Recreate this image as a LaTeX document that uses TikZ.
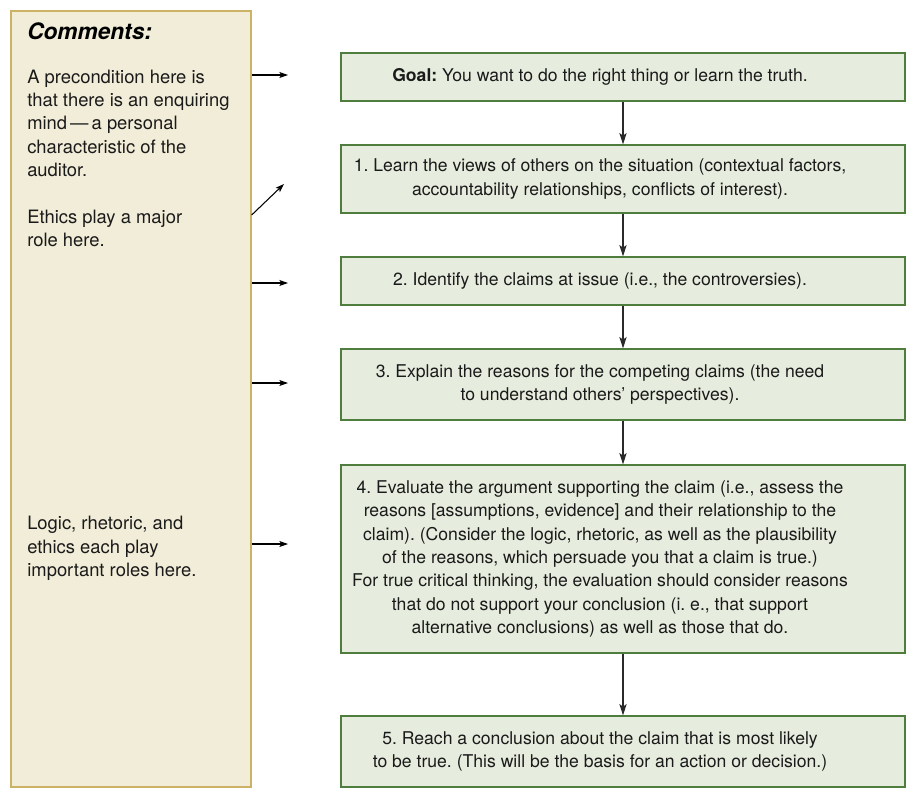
\documentclass[tikz,border=0pt]{standalone}
\usepackage{fontspec}
\setmainfont{TeX Gyre Heros}
\usetikzlibrary{arrows.meta}
\definecolor{creamfill}{HTML}{F2EDD8}
\definecolor{creamline}{HTML}{CCB264}
\definecolor{greenfill}{HTML}{E6EDDE}
\definecolor{greenline}{HTML}{4E7D3E}
\definecolor{inkgray}{HTML}{1A1A1A}
\definecolor{wiregray}{HTML}{2A2A2A}
\tikzset{
  stepbox/.style={draw=greenline, fill=greenfill, line width=1pt,
    minimum width=423pt, inner sep=0pt},
  steptext/.style={inner sep=0pt, align=center, xshift=-17.25pt,
    font=\fontsize{13.2}{17.5}\selectfont, text=inkgray},
  notebox/.style={draw=creamline, fill=creamfill, line width=1pt,
    minimum width=180pt, minimum height=582pt, inner sep=0pt},
  notetext/.style={anchor=base west, inner sep=0pt, align=left,
    font=\fontsize{13.8}{17.55}\selectfont, text=inkgray},
  flow/.style={draw=wiregray, line width=1pt, -{Stealth[length=8.5pt,width=5.5pt,inset=2pt]}},
  side/.style={draw=black, line width=0.8pt, -{Stealth[length=6.5pt,width=4.5pt,inset=1.5pt]}}
}
\begin{document}
\frenchspacing
\begin{tikzpicture}[x=0.75pt,y=-0.75pt]
\useasboundingbox (0,0) rectangle (906,801);

% comment column (multi-line notes are placed by the baseline of their last line)
\node[notebox] (notes) at (131,399) {};
\node[anchor=base west, inner sep=0pt, font=\fontsize{17}{20}\selectfont\bfseries\itshape]
  (title) at (27,39) {Comments:};
\node[notetext] (n1) at (27,176.6) {A precondition here is\\that there is an enquiring\\mind\,---\,a personal\\characteristic of the\\auditor.};
\node[notetext] (n2) at (27,246.7) {Ethics play a major\\role here.};
\node[notetext] (n3) at (27,576.7) {Logic, rhetoric, and\\ethics each play\\important roles here.};

% flow of steps: boxes, then their texts set slightly left of centre
\node[stepbox, minimum height=36pt] (goal) at (623,77) {};
\node[stepbox, minimum height=51pt] (s1) at (623,179) {};
\node[stepbox, minimum height=36pt] (s2) at (623,281) {};
\node[stepbox, minimum height=53.25pt] (s3) at (623,384.5) {};
\node[stepbox, minimum height=141pt] (s4) at (623,559) {};
\node[stepbox, minimum height=53.25pt] (s5) at (623,751.5) {};

\node[steptext] (goaltext) at (goal.center)
  {\textbf{Goal:} You want to do the right thing or learn the truth.};
\node[steptext] (s1text) at (s1.center)
  {1. Learn the views of others on the situation (contextual factors,\\accountability relationships, conflicts of interest).};
\node[steptext] (s2text) at (s2.center)
  {2. Identify the claims at issue (i.e., the controversies).};
\node[steptext] (s3text) at (s3.center)
  {3. Explain the reasons for the competing claims (the need\\to understand others’ perspectives).};
\node[steptext] (s4text) at (s4.center)
  {4. Evaluate the argument supporting the claim (i.e., assess the\\reasons [assumptions, evidence] and their relationship to the\\claim). (Consider the logic, rhetoric, as well as the plausibility\\of the reasons, which persuade you that a claim is true.)\\For true critical thinking, the evaluation should consider reasons\\that do not support your conclusion (i. e., that support\\alternative conclusions) as well as those that do.};
\node[steptext] (s5text) at (s5.center)
  {5. Reach a conclusion about the claim that is most likely\\to be true. (This will be the basis for an action or decision.)};

\draw[flow] (goal) -- (s1);
\draw[flow] (s1) -- (s2);
\draw[flow] (s2) -- (s3);
\draw[flow] (s3) -- (s4);
\draw[flow] (s4) -- (s5);

% pointers from the comments
\coordinate (p0) at (288,75);
\coordinate (p1) at (284,184);
\coordinate (p2) at (288,283);
\coordinate (p3) at (288,383);
\coordinate (p4) at (288,544);
\draw[side] (notes.east |- p0) -- (p0);
\draw[side] (notes.east |- 0,215) -- (p1);
\draw[side] (notes.east |- p2) -- (p2);
\draw[side] (notes.east |- p3) -- (p3);
\draw[side] (notes.east |- p4) -- (p4);
\end{tikzpicture}
\end{document}
